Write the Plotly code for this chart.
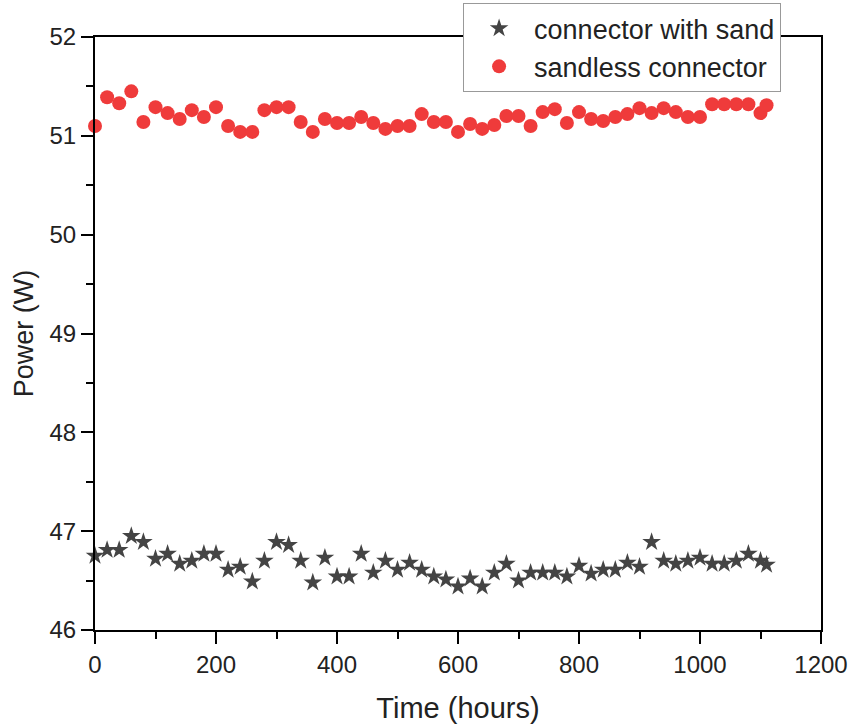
import plotly.graph_objects as go

time_sand = [0, 20, 40, 60, 80, 100, 120, 140, 160, 180, 200, 220, 240, 260, 280, 300, 320, 340, 360, 380,
             400, 420, 440, 460, 480, 500, 520, 540, 560, 580, 600, 620, 640, 660, 680, 700, 720, 740, 760, 780,
             800, 820, 840, 860, 880, 900, 920, 940, 960, 980, 1000, 1020, 1040, 1060, 1080, 1100, 1110]
power_sand = [46.75, 46.81, 46.81, 46.95, 46.89, 46.72, 46.77, 46.67, 46.70, 46.77, 46.77, 46.61, 46.64, 46.49,
              46.70, 46.89, 46.86, 46.70, 46.48, 46.73, 46.54, 46.54, 46.77, 46.58, 46.70, 46.61, 46.68, 46.61,
              46.54, 46.51, 46.44, 46.52, 46.44, 46.58, 46.67, 46.50, 46.58, 46.58, 46.58, 46.54, 46.65, 46.57,
              46.61, 46.61, 46.68, 46.64, 46.89, 46.70, 46.67, 46.70, 46.73, 46.67, 46.67, 46.70, 46.77, 46.70,
              46.66]

time_sandless = time_sand
power_sandless = [51.10, 51.39, 51.33, 51.45, 51.14, 51.29, 51.23, 51.17, 51.26, 51.19, 51.29, 51.10, 51.04,
                  51.04, 51.26, 51.29, 51.29, 51.14, 51.04, 51.17, 51.13, 51.13, 51.19, 51.13, 51.07, 51.10,
                  51.10, 51.22, 51.14, 51.14, 51.04, 51.12, 51.07, 51.11, 51.20, 51.20, 51.10, 51.24, 51.27,
                  51.13, 51.24, 51.17, 51.15, 51.19, 51.22, 51.28, 51.23, 51.28, 51.24, 51.19, 51.19, 51.32,
                  51.32, 51.32, 51.32, 51.23, 51.31]

fig = go.Figure()
fig.add_trace(go.Scatter(
    x=time_sand, y=power_sand, mode="markers", name="connector with sand",
    marker=dict(symbol="star", size=14, color="#444444"), cliponaxis=False))
fig.add_trace(go.Scatter(
    x=time_sandless, y=power_sandless, mode="markers", name="sandless connector",
    marker=dict(symbol="circle", size=14, color="#EF3B3B"), cliponaxis=False))

axis_common = dict(
    showline=True, linewidth=2, linecolor="black", mirror=True,
    ticks="outside", ticklen=12, tickwidth=2, tickcolor="black",
    showgrid=False, zeroline=False, automargin=False,
    tickfont=dict(family="Liberation Sans, Arial", size=24, color="#222222"),
)

fig.update_layout(
    width=852, height=724,
    margin=dict(l=95, r=31, t=37, b=94, autoexpand=False),
    paper_bgcolor="white", plot_bgcolor="white",
    font=dict(family="Liberation Sans, Arial", color="#222222"),
    xaxis=dict(range=[0, 1200], dtick=200, tick0=0,
               minor=dict(dtick=100, ticklen=7, tickwidth=2, tickcolor="black", ticks="outside"),
               title=dict(text="Time (hours)", font=dict(size=29), standoff=22),
               **axis_common),
    yaxis=dict(range=[46, 52], dtick=1, tick0=46,
               minor=dict(dtick=0.5, ticklen=7, tickwidth=2, tickcolor="black", ticks="outside"),
               title=dict(text="Power (W)", font=dict(size=27), standoff=8),
               **axis_common),
    legend=dict(x=0.507, y=1.057, xanchor="left", yanchor="top",
                bgcolor="white", bordercolor="#999999", borderwidth=1,
                font=dict(size=27, family="Liberation Sans, Arial", color="#222222"),
                itemwidth=60, tracegroupgap=0),
    showlegend=True,
)

fig.write_html("out.html")
